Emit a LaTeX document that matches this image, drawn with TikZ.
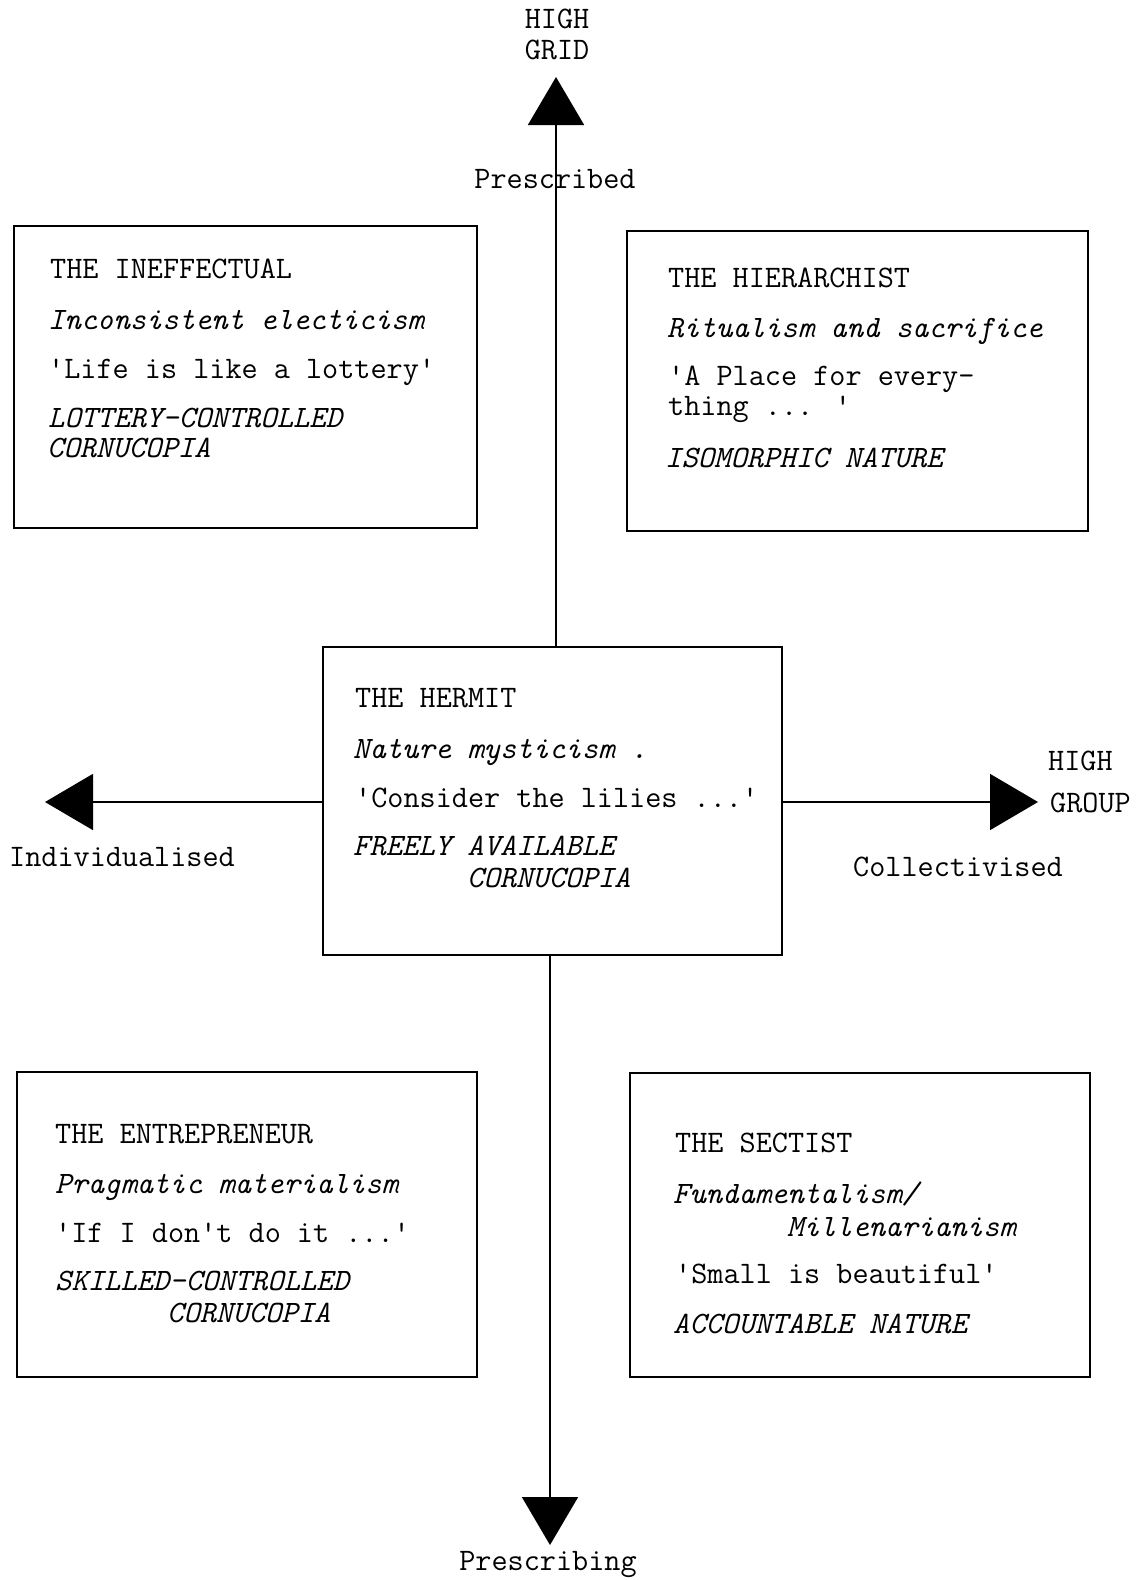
\documentclass[tikz,border=0pt]{standalone}
\usetikzlibrary{arrows.meta}
\newcommand\twfont{\fontsize{31.3}{36}\selectfont\ttfamily}
\newcommand\twit{\fontsize{31.1}{36}\selectfont\ttfamily\itshape}
\tikzset{
  box/.style={draw, line width=1.9pt, rectangle, inner sep=0pt},
  txt/.style={inner sep=0pt, font=\twfont, anchor=base west},
  itx/.style={inner sep=0pt, font=\twit, anchor=base west},
  lbl/.style={inner sep=0pt, font=\twfont, anchor=base},
  axis/.style={line width=1.7pt, -{Triangle[length=48pt,width=56pt]}},
}
\begin{document}
\begin{tikzpicture}[x=1pt,y=-1pt]
\useasboundingbox (0,0) rectangle (1139,1580);
% boxes
\node[box, minimum width=463pt, minimum height=302pt] (ineff) at (245.5,377) {};
\node[box, minimum width=461pt, minimum height=300pt] (hier) at (857.5,381) {};
\node[box, minimum width=459pt, minimum height=308pt] (hermit) at (552.5,801) {};
\node[box, minimum width=460pt, minimum height=305pt] (entre) at (247,1224.5) {};
\node[box, minimum width=460pt, minimum height=304pt] (sect) at (860,1225) {};
% arrow tips
\coordinate (gridtip) at (556,77);
\coordinate (indtip) at (45,802);
\coordinate (grouptip) at (1038,802);
\coordinate (pbtip) at (550,1545);
\draw[axis] (hermit.north -| gridtip) -- (gridtip);
\draw[axis] (hermit.west |- indtip) -- (indtip);
\draw[axis] (hermit.east |- grouptip) -- (grouptip);
\draw[axis] (hermit.south -| pbtip) -- (pbtip);
% axis labels
\node[lbl] (high1) at (557,28) {HIGH};
\node[lbl] (grid) at (557,59) {GRID};
\node[lbl] (presd) at (555,188) {Prescribed};
\node[lbl] (indiv) at (122,866) {Individualised};
\node[txt] (high2) at (1048,770) {HIGH};
\node[txt] (group) at (1050,812) {GROUP};
\node[lbl] (coll) at (958,876) {Collectivised};
\node[lbl] (presg) at (548,1570) {Prescribing};
% top-left
\node[txt] (ia) at (50,278) {THE INEFFECTUAL};
\node[itx] (ib) at (48,329) {Inconsistent electicism};
\node[txt] (ic) at (48,378) {'Life is like a lottery'};
\node[itx] (id) at (48,427) {LOTTERY-CONTROLLED};
\node[itx] (ie) at (47,457) {CORNUCOPIA};
% top-right
\node[txt] (ha) at (668,287) {THE HIERARCHIST};
\node[itx] (hb) at (667,337) {Ritualism and sacrifice};
\node[txt] (hc) at (668,385) {'A Place for every-};
\node[txt] (hd) at (668,415) {thing ... '};
\node[itx] (he) at (665,467) {ISOMORPHIC NATURE};
% centre
\node[txt] (ma) at (355,707) {THE HERMIT};
\node[itx] (mb) at (353,758) {Nature mysticism .};
\node[txt] (mc) at (355,807) {'Consider the lilies ...'};
\node[itx] (md) at (353,855) {FREELY AVAILABLE};
\node[itx] (me) at (467,887) {CORNUCOPIA};
% bottom-left
\node[txt] (ea) at (55,1143) {THE ENTREPRENEUR};
\node[itx] (eb) at (55,1193) {Pragmatic materialism};
\node[txt] (ec) at (55,1242) {'If I don't do it ...'};
\node[itx] (ed) at (55,1290) {SKILLED-CONTROLLED};
\node[itx] (ee) at (167,1322) {CORNUCOPIA};
% bottom-right
\node[txt] (sa) at (675,1152) {THE SECTIST};
\node[itx] (sb) at (673,1203) {Fundamentalism/};
\node[itx] (sc) at (787,1236) {Millenarianism};
\node[txt] (sd) at (675,1283) {'Small is beautiful'};
\node[itx] (se) at (673,1333) {ACCOUNTABLE NATURE};
\end{tikzpicture}
\end{document}
